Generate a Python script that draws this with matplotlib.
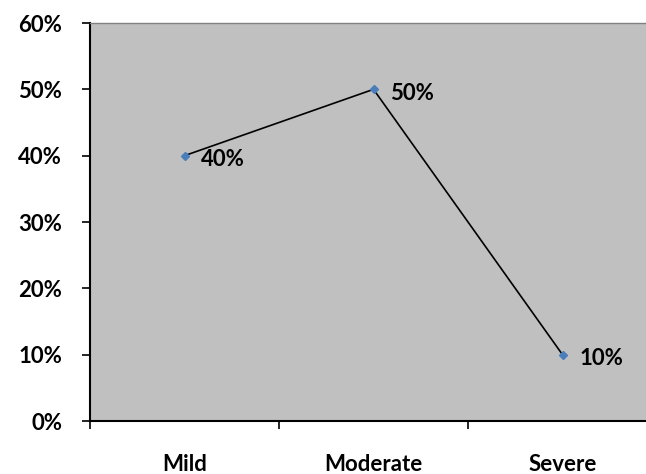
import matplotlib.pyplot as plt
import numpy as np

categories = ["Mild", "Moderate", "Severe"]
values = [40, 50, 10]
yticks = [0, 10, 20, 30, 40, 50, 60]

plt.rcParams['font.family'] = ['Lato', 'DejaVu Sans']
plt.rcParams['font.weight'] = 'bold'

fig = plt.figure(figsize=(6.46, 4.74), dpi=100)
ax = fig.add_axes([90/646, 1 - 421/474, 567/646, 398/474])
ax.set_facecolor('#c0c0c0')

x = np.arange(len(categories)) + 0.5
ax.plot(x, values, color='black', lw=1.2, zorder=2)
ax.plot(x, values, linestyle='none', marker='D', ms=4, color='#4a7ebb', zorder=3)

for xi, v in zip(x, values):
    ax.annotate(f"{v}%", (xi, v), xytext=(12, -3), textcoords='offset points',
                ha='left', va='center', fontsize=16, fontweight='bold')

ax.set_xlim(0, 3)
ax.set_ylim(0, 60)
ax.set_yticks(yticks)
ax.set_yticklabels([f"{t}%" for t in yticks], fontsize=16, fontweight='bold')
ax.set_xticks([0, 1, 2, 3])
ax.set_xticklabels([])
ax.set_xticks(x, minor=True)
ax.set_xticklabels(categories, minor=True, fontsize=16, fontweight='bold')
ax.tick_params(axis='x', which='minor', length=0, pad=24)
ax.tick_params(axis='x', which='major', length=6, width=1.2, direction='out')
ax.tick_params(axis='y', length=6, width=1.2, direction='out', pad=14)

ax.spines['top'].set_color('#808080')
ax.spines['top'].set_linewidth(1)
ax.spines['right'].set_visible(False)
ax.spines['left'].set_linewidth(1.5)
ax.spines['bottom'].set_linewidth(1.5)

fig.savefig('out.png', dpi=100)
